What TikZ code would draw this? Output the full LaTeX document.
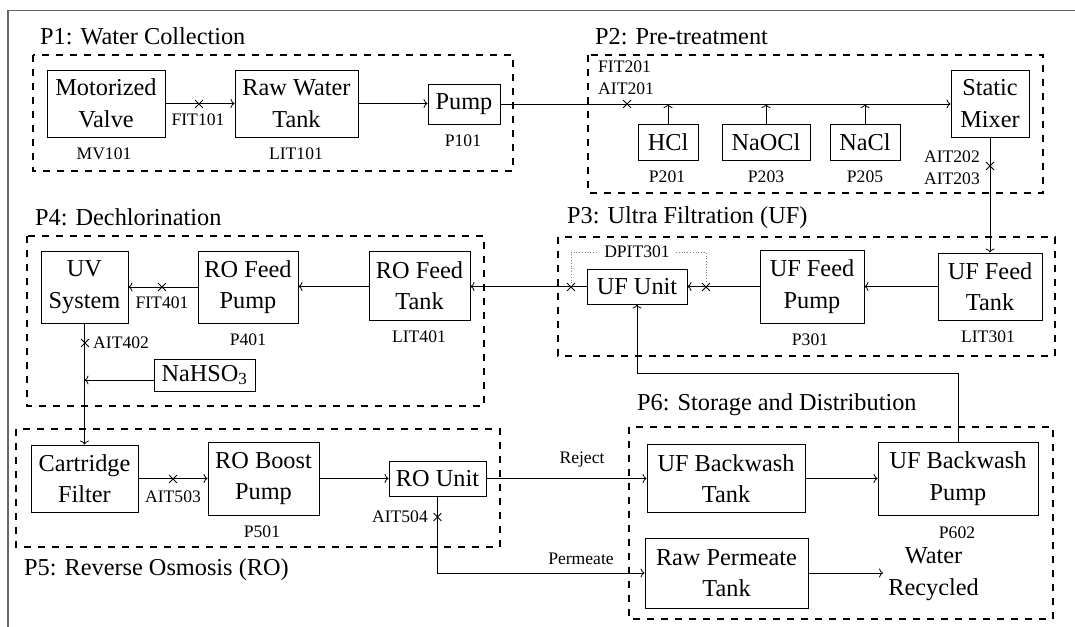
\documentclass[tikz,border=0pt]{standalone}
\usepackage{fontspec}
\setmainfont{Liberation Serif}
\usetikzlibrary{arrows.meta,shapes.misc}
\newcommand\mainsz{\fontsize{24.3}{31.6}\selectfont}
\newcommand\smallsz{\fontsize{17.6}{21.6}\selectfont}
\begin{document}
\begin{tikzpicture}[x=1pt,y=-1pt,
  box/.style={draw, line width=0.9pt, align=center, inner sep=0pt, font=\mainsz},
  lbl/.style={font=\smallsz, inner sep=0pt, align=center},
  ttl/.style={font=\mainsz, anchor=base west, inner sep=0pt},
  grp/.style={draw, dash pattern=on 7pt off 7pt, line width=1.8pt},
  flow/.style={draw, line width=0.8pt, -{To[length=4pt,width=9pt]}},
  link/.style={draw, line width=0.8pt},
  xmark/.style={cross out, draw, line width=0.8pt, minimum size=7pt, inner sep=0pt},
  dotl/.style={draw, dotted, gray, line width=0.8pt},
  frame/.style={draw, line width=1.4pt, black!60}]
\useasboundingbox (0,0) rectangle (1075,626);
\draw[frame] (8,10.7) rectangle (1200,800);

% group boxes
\draw[grp] (33,55) rectangle (513,171);
\draw[grp] (588,55) rectangle (1043,193);
\draw[grp] (27,236) rectangle (484,406);
\draw[grp] (558,237) rectangle (1055,356);
\draw[grp] (16,429) rectangle (500,547);
\draw[grp] (629,427) rectangle (1053,619);

% titles
\node[ttl] (t1) at (40,45) {P1:\hspace{0.33em}Water Collection};
\node[ttl] (t2) at (595,45) {P2:\hspace{0.33em}Pre-treatment};
\node[ttl] (t4) at (35,225) {P4:\hspace{0.33em}Dechlorination};
\node[ttl] (t3) at (567,223) {P3:\hspace{0.33em}Ultra Filtration (UF)};
\node[ttl] (t6) at (637,410) {P6:\hspace{0.33em}Storage and Distribution};
\node[ttl] (t5) at (24,575) {P5:\hspace{0.33em}Reverse Osmosis (RO)};

% P1
\node[box, minimum width=118pt, minimum height=67pt] (mv) at (106,103.5) {Motorized\\Valve};
\node[box, minimum width=123pt, minimum height=67pt] (rwt) at (296.5,103.5) {Raw Water\\Tank};
\node[box, minimum width=72pt, minimum height=40pt] (pump) at (464,104) {Pump};
\node[lbl] (mvl) at (104,154) {MV101};
\node[lbl] (rwtl) at (296,154) {LIT101};
\node[lbl] (pumpl) at (463,141) {P101};
\node[lbl] (fit101) at (198,120) {FIT101};

% P2
\node[box, minimum width=60pt, minimum height=36pt] (hcl) at (668,142) {HCl};
\node[box, minimum width=88pt, minimum height=36pt] (naocl) at (766,142) {NaOCl};
\node[box, minimum width=70pt, minimum height=36pt] (nacl) at (865,142) {NaCl};
\node[box, minimum width=78pt, minimum height=67pt] (sm) at (990,103.5) {Static\\Mixer};
\node[lbl] (p201) at (667,177) {P201};
\node[lbl] (p203) at (766,177) {P203};
\node[lbl] (p205) at (865,177) {P205};
\node[lbl, align=left, anchor=west] (fit201) at (598,78) {FIT201\\AIT201};
\node[lbl, align=right, anchor=east] (ait202) at (980,167.5) {AIT202\\AIT203};

% P3
\node[box, minimum width=100pt, minimum height=35pt] (uf) at (637,286.5) {UF Unit};
\node[box, minimum width=104pt, minimum height=73pt] (uffp) at (812,286.5) {UF Feed\\Pump};
\node[box, minimum width=104pt, minimum height=67pt] (ufft) at (990,286.5) {UF Feed\\Tank};
\node[lbl] (p301) at (810,340) {P301};
\node[lbl] (lit301) at (988,337) {LIT301};
\node[lbl, inner sep=6pt] (dpit) at (637,252) {DPIT301};

% P4
\node[box, minimum width=87pt, minimum height=72pt] (uv) at (84.5,287) {UV\\System};
\node[box, minimum width=100pt, minimum height=72pt] (rofp) at (248,287) {RO Feed\\Pump};
\node[box, minimum width=101pt, minimum height=69pt] (roft) at (419.5,285.5) {RO Feed\\Tank};
\node[box, minimum width=101pt, minimum height=32pt] (nahso) at (204.5,375) {NaHSO\textsubscript{3}};
\node[lbl] (fit401) at (162,303) {FIT401};
\node[lbl] (p401) at (248,340) {P401};
\node[lbl] (lit401) at (419,337) {LIT401};
\node[lbl, anchor=west] (ait402) at (93,343) {AIT402};

% P5
\node[box, minimum width=107pt, minimum height=67pt] (cf) at (84.5,478.5) {Cartridge\\Filter};
\node[box, minimum width=111pt, minimum height=73pt] (robp) at (263.5,478.5) {RO Boost\\Pump};
\node[box, minimum width=97pt, minimum height=35pt] (rou) at (437.5,478.5) {RO Unit};
\node[lbl] (ait503) at (173,497) {AIT503};
\node[lbl] (p501) at (262,532) {P501};
\node[lbl, anchor=east] (ait504) at (428,517) {AIT504};

% P6
\node[box, minimum width=158pt, minimum height=68pt] (ufbt) at (726,478.5) {UF Backwash\\Tank};
\node[box, minimum width=160pt, minimum height=73pt] (ufbp) at (958,478.5) {UF Backwash\\Pump};
\node[box, minimum width=163pt, minimum height=70pt] (rpt) at (726.5,573) {Raw Permeate\\Tank};
\node[lbl] (p602) at (957,533) {P602};
\node[font=\mainsz, align=center, inner sep=5pt] (wr) at (933.5,574) {Water\\Recycled};
\node[lbl] (rej) at (582,460) {Reject};
\node[lbl] (perm) at (581,559) {Permeate};

% crosses
\node[xmark] (x1) at (199,104) {};
\node[xmark] (x2) at (627,104) {};
\node[xmark] (x3) at (990,166) {};
\node[xmark] (x4) at (162,287) {};
\node[xmark] (x5) at (85,343) {};
\node[xmark] (x6) at (571,287) {};
\node[xmark] (x7) at (706,287) {};
\node[xmark] (x8) at (173,479) {};
\node[xmark] (x9) at (437.5,517) {};
\coordinate (bw) at (0,373);
\coordinate (nw) at ([yshift=-5pt]nahso.west);

% connectors
\draw[flow] (mv.east) -- (rwt.west |- mv.east);
\draw[flow] (rwt.east) -- (pump.west |- rwt.east);
\draw[flow] (pump.east) -- (sm.west |- pump.east);
\draw[flow] (hcl.north) -- (hcl.north |- pump.east);
\draw[flow] (naocl.north) -- (naocl.north |- pump.east);
\draw[flow] (nacl.north) -- (nacl.north |- pump.east);
\draw[flow] (sm.south) -- (ufft.north);
\draw[flow] (ufft.west) -- (uffp.east |- ufft.west);
\draw[flow] (uffp.west) -- (uf.east |- uffp.west);
\draw[flow] (uf.west) -- (roft.east |- uf.west);
\draw[flow] (roft.west |- uf.west) -- (rofp.east |- uf.west);
\draw[flow] (rofp.west) -- (uv.east |- rofp.west);
\draw[flow] (uv.south) -- (cf.north);
\draw[flow] (nw) -- (uv.south |- nw);
\draw[flow] (cf.east) -- (robp.west |- cf.east);
\draw[flow] (robp.east) -- (rou.west |- robp.east);
\draw[flow] (rou.east) -- (ufbt.west |- rou.east);
\draw[flow] (rou.south) |- (rpt.west);
\draw[flow] (ufbt.east) -- (ufbp.west |- ufbt.east);
\draw[flow] (ufbp.north) -- (ufbp.north |- bw) -| (uf.south);
\draw[flow] (rpt.east) -- (wr.west |- rpt.east);
\draw[dotl] (x6) |- (dpit.west);
\draw[dotl] (dpit.east) -| (x7);
\end{tikzpicture}
\end{document}
